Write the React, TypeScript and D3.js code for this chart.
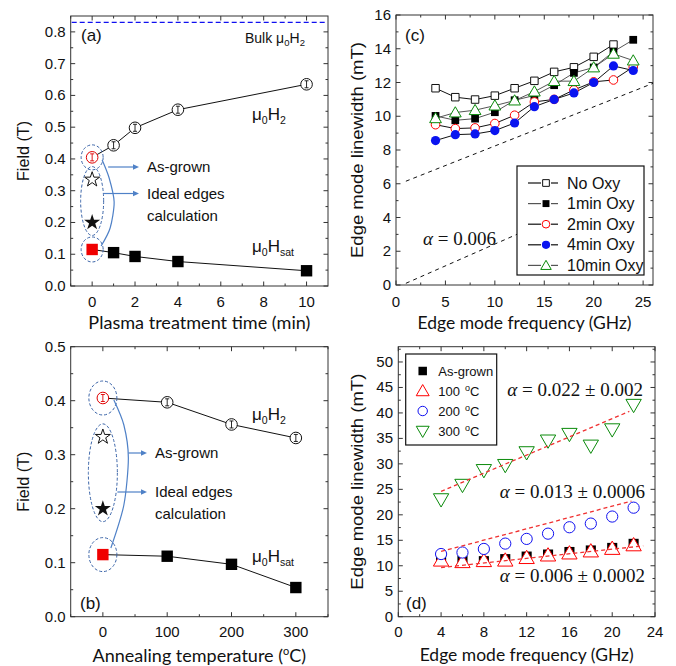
import React from 'react';
import * as d3 from 'd3';

// ---- panel (a): plasma treatment ----
const plasmaTimes = [0, 1, 2, 4, 10];
const h2Plasma = [0.405, 0.443, 0.498, 0.555, 0.635];
const hsatPlasma = [0.115, 0.105, 0.093, 0.077, 0.048];
const idealPlasma = [0.335, 0.2]; // open star, filled star
const bulkH2 = 0.83;

// ---- panel (b): annealing ----
const annealTemps = [0, 100, 200, 300];
const h2Anneal = [0.405, 0.397, 0.356, 0.331];
const hsatAnneal = [0.115, 0.112, 0.097, 0.054];
const idealAnneal = [0.333, 0.2];

// ---- panel (c): oxidation linewidth ----
const oxyFreq = [4, 6, 8, 10, 12, 14, 16, 18, 20, 22, 24];
const oxyNames = ['No Oxy', '1min Oxy', '2min Oxy', '4min Oxy', '10min Oxy'];
const noOxy = [11.66, 11.13, 10.99, 11.22, 11.66, 12.1, 12.63, 12.9, 13.52, 14.25];
const oxy1 = [10.02, 9.76, 9.86, 10.24, 10.95, 11.23, 11.84, 12.57, 12.89, 13.83, 14.53];
const oxy2 = [9.5, 9.27, 9.31, 9.57, 10.06, 10.85, 11.0, 11.56, 12.04, 12.15, 12.92];
const oxy4 = [8.56, 8.91, 8.95, 9.15, 9.6, 10.57, 11.0, 11.38, 12.0, 12.98, 12.71];
const oxy10 = [9.88, 10.22, 10.36, 10.63, 10.93, 11.46, 12.08, 12.08, 12.89, 13.7, 13.3];
const alphaRefUpper = [[1, 6.15], [26, 11.95]];
const alphaRefLower = [[1, 0.1], [13, 3.2]];

// ---- panel (d): annealing linewidth ----
const annFreq = [4, 6, 8, 10, 12, 14, 16, 18, 20, 22];
const annNames = ['As-grown', '100 °C', '200 °C', '300 °C'];
const asGrown = [11.2, 11.0, 10.9, 11.3, 11.8, 12.2, 12.7, 13.0, 13.5, 14.3];
const t100 = [11.0, 10.7, 10.9, 11.0, 11.5, 12.0, 12.4, 12.8, 13.3, 14.0];
const t200 = [12.3, 12.6, 13.3, 14.35, 15.27, 16.3, 17.56, 18.28, 19.66, 21.4];
const t300 = [23.07, 25.9, 28.8, 29.8, 32.3, 34.6, 35.9, 33.6, 36.8, 41.6];
const fitAsGrown = [[4, 9.65], [22.9, 13.9]];
const fit200 = [[4, 12.8], [21.8, 22.7]];
const fit300 = [[4, 24.6], [21.6, 40.3]];

const SANS = '"Liberation Sans", Arial, sans-serif';
const HUM = 'Lato, "Open Sans", sans-serif';
const SERIF = '"Liberation Serif", "Times New Roman", serif';
const AXIS = '#333';
const ANNO = '#4f81c7';

type Sc = d3.ScaleLinear<number, number>;

function Frame(props: {
  x: Sc; y: Sc; xTicks: number[]; xMinor: number[]; yTicks: number[]; yMinor: number[];
  yFmt: (v: number) => string; xTitle: React.ReactNode; yTitle: string;
  xLabelY: number; xTitleY: number; yLabelX: number; yTitleX: number;
  xTitleLen?: number; yTitleLen: number;
}) {
  const { x, y } = props;
  const [x0, x1] = x.range();
  const [y0, y1] = y.range();
  const M = 4.5, m = 2.5;
  return (
    <g>
      <rect x={x0} y={y1} width={x1 - x0} height={y0 - y1} fill="none" stroke={AXIS} strokeWidth={1} />
      {props.xTicks.map(t => (
        <g key={'xt' + t}>
          <line x1={x(t)} x2={x(t)} y1={y0} y2={y0 - M} stroke={AXIS} />
          <line x1={x(t)} x2={x(t)} y1={y1} y2={y1 + M} stroke={AXIS} />
          <text x={x(t)} y={props.xLabelY} textAnchor="middle" fontSize={15} fontFamily={SANS} fill="#111">{t}</text>
        </g>
      ))}
      {props.xMinor.map(t => (
        <g key={'xm' + t}>
          <line x1={x(t)} x2={x(t)} y1={y0} y2={y0 - m} stroke={AXIS} />
          <line x1={x(t)} x2={x(t)} y1={y1} y2={y1 + m} stroke={AXIS} />
        </g>
      ))}
      {props.yTicks.map(t => (
        <g key={'yt' + t}>
          <line x1={x0} x2={x0 + M} y1={y(t)} y2={y(t)} stroke={AXIS} />
          <line x1={x1} x2={x1 - M} y1={y(t)} y2={y(t)} stroke={AXIS} />
          <text x={props.yLabelX} y={y(t) + 5} textAnchor="end" fontSize={15} fontFamily={SANS} fill="#111">{props.yFmt(t)}</text>
        </g>
      ))}
      {props.yMinor.map(t => (
        <g key={'ym' + t}>
          <line x1={x0} x2={x0 + m} y1={y(t)} y2={y(t)} stroke={AXIS} />
          <line x1={x1} x2={x1 - m} y1={y(t)} y2={y(t)} stroke={AXIS} />
        </g>
      ))}
      {props.xTitleLen ? (
        <text x={(x0 + x1) / 2 - props.xTitleLen / 2} y={props.xTitleY} fontSize={18} fontFamily={HUM} fill="#111"
          textLength={props.xTitleLen} lengthAdjust="spacingAndGlyphs">{props.xTitle}</text>
      ) : (
        <text x={(x0 + x1) / 2} y={props.xTitleY} textAnchor="middle" fontSize={18} fontFamily={HUM} fill="#111">{props.xTitle}</text>
      )}
      <text transform={`translate(${props.yTitleX},${(y0 + y1) / 2 + props.yTitleLen / 2}) rotate(-90)`} fontSize={17} fontFamily={SANS} fill="#111"
        textLength={props.yTitleLen} lengthAdjust="spacingAndGlyphs">{props.yTitle}</text>
    </g>
  );
}

const sym = (type: d3.SymbolType, size: number) => d3.symbol().type(type).size(size)() || '';

function Mu0H({ x, y, sub, size = 17 }: { x: number; y: number; sub: string; size?: number }) {
  const s = size * 0.62;
  return (
    <text x={x} y={y} fontSize={size} fontFamily={SANS} fill="#111">
      μ<tspan fontSize={s} dy={size * 0.22}>0</tspan>
      <tspan dy={-size * 0.22}>H</tspan>
      <tspan fontSize={s} dy={size * 0.22}>{sub}</tspan>
    </text>
  );
}

function Arrow({ x1, x2, y }: { x1: number; x2: number; y: number }) {
  return (
    <g>
      <line x1={x1} x2={x2 - 5} y1={y} y2={y} stroke={ANNO} strokeWidth={1.2} />
      <path d={`M${x2},${y} L${x2 - 6},${y - 2.8} L${x2 - 6},${y + 2.8} Z`} fill={ANNO} />
    </g>
  );
}

function FieldPanel(props: {
  x: Sc; y: Sc; xs: number[]; h2: number[]; hsat: number[]; ideal: number[];
  xTicks: number[]; xMinor: number[]; yTicks: number[]; yMinor: number[];
  xTitle: React.ReactNode; xTitleLen?: number; label: string; labelPos: [number, number];
  xLabelY: number; xTitleY: number; h2Text: [number, number]; hsatText: [number, number];
  ellR: number; ellRy: number; curve: [number, number][]; textX: number;
  arrowAs: [number, number]; arrowId: [number, number]; bulk?: number;
}) {
  const { x, y, xs, h2, hsat, ideal } = props;
  const line = d3.line<number>().x((_, i) => x(xs[i])).y(d => y(d));
  const cx = x(0);
  const yTop = y(h2[0]), yBot = y(hsat[0]);
  const yS1 = y(ideal[0]), yS2 = y(ideal[1]);
  const er = props.ellR, ery = props.ellRy;
  const bracket = d3.line<[number, number]>().x(d => cx + d[0]).y(d => d[1]).curve(d3.curveCardinal.tension(0.2));
  const [xr0, xr1] = x.range();
  return (
    <g>
      <Frame x={x} y={y} xTicks={props.xTicks} xMinor={props.xMinor} yTicks={props.yTicks} yMinor={props.yMinor}
        yFmt={d3.format('.1f')} xTitle={props.xTitle} yTitle="Field (T)"
        xLabelY={props.xLabelY} xTitleY={props.xTitleY} yLabelX={x.range()[0] - 5} yTitleX={29}
        xTitleLen={props.xTitleLen} yTitleLen={60} />
      {props.bulk !== undefined && (
        <g>
          <line x1={xr0 + 1} x2={xr1 - 1} y1={y(props.bulk)} y2={y(props.bulk)} stroke="#1010f0" strokeWidth={1.3} strokeDasharray="5,3" />
          <text x={245} y={43} fontSize={14} fontFamily={SANS} fill="#111">Bulk μ<tspan fontSize={9.5} dy={3}>0</tspan><tspan dy={-3}>H</tspan><tspan fontSize={9.5} dy={3}>2</tspan></text>
        </g>
      )}
      <text x={props.labelPos[0]} y={props.labelPos[1]} fontSize={17} fontFamily={SANS} fill="#111">{props.label}</text>
      {/* connecting lines */}
      <path d={line(h2) || ''} fill="none" stroke="#111" strokeWidth={1} />
      <path d={line(hsat) || ''} fill="none" stroke="#111" strokeWidth={1} />
      {/* annotations */}
      <ellipse cx={cx} cy={yTop} rx={er} ry={ery} fill="none" stroke="#3a64a8" strokeWidth={1} strokeDasharray="3,2" />
      <ellipse cx={cx} cy={yBot} rx={er} ry={ery} fill="none" stroke="#3a64a8" strokeWidth={1} strokeDasharray="3,2" />
      <ellipse cx={cx} cy={(yS1 + yS2) / 2} rx={er + 0.5} ry={(yS2 - yS1) / 2 + 13} fill="none" stroke="#3a64a8" strokeWidth={1} strokeDasharray="3,2" />
      <path d={bracket(props.curve) || ''} fill="none" stroke={ANNO} strokeWidth={1.2} />
      <Arrow x1={cx + props.arrowAs[0]} x2={props.textX - 8} y={props.arrowAs[1]} />
      <Arrow x1={cx + props.arrowId[0]} x2={props.textX - 8} y={props.arrowId[1]} />
      <text x={props.textX} y={props.arrowAs[1] + 5} fontSize={15} fontFamily={SANS} fill="#111">As-grown</text>
      <text x={props.textX} y={props.arrowId[1] + 5} fontSize={15} fontFamily={SANS} fill="#111">Ideal edges</text>
      <text x={props.textX} y={props.arrowId[1] + 27} fontSize={15} fontFamily={SANS} fill="#111">calculation</text>
      {/* stars */}
      <path d={sym(d3.symbolStar, 70)} transform={`translate(${cx},${yS1})`} fill="#fff" stroke="#111" strokeWidth={1} />
      <path d={sym(d3.symbolStar, 80)} transform={`translate(${cx},${yS2})`} fill="#111" />
      {/* Hsat squares */}
      {hsat.map((v, i) => (
        <path key={'s' + i} d={sym(d3.symbolSquare, 130)} transform={`translate(${x(xs[i])},${y(v)})`} fill={i === 0 ? '#f00000' : '#000'} />
      ))}
      {/* H2 circles with error bars */}
      {h2.map((v, i) => {
        const c = i === 0 ? '#e00000' : '#111';
        const px = x(xs[i]), py = y(v);
        return (
          <g key={'c' + i}>
            <circle cx={px} cy={py} r={5.8} fill="#fff" stroke={c} strokeWidth={1} />
            <line x1={px} x2={px} y1={py - 3.5} y2={py + 3.5} stroke={c} strokeWidth={0.9} />
            <line x1={px - 2} x2={px + 2} y1={py - 3.5} y2={py - 3.5} stroke={c} strokeWidth={0.9} />
            <line x1={px - 2} x2={px + 2} y1={py + 3.5} y2={py + 3.5} stroke={c} strokeWidth={0.9} />
          </g>
        );
      })}
      <Mu0H x={props.h2Text[0]} y={props.h2Text[1]} sub="2" />
      <Mu0H x={props.hsatText[0]} y={props.hsatText[1]} sub="sat" />
    </g>
  );
}

function Marker({ kind, cx, cy, color, s = 1 }: { kind: string; cx: number; cy: number; color: string; s?: number }) {
  const t = `translate(${cx},${cy})`;
  if (kind === 'sqOpen') return <path d={sym(d3.symbolSquare, 56 * s)} transform={t} fill="#fff" stroke={color} strokeWidth={1} />;
  if (kind === 'sqFill') return <path d={sym(d3.symbolSquare, 60 * s)} transform={t} fill={color} />;
  if (kind === 'ciOpen') return <circle cx={cx} cy={cy} r={4.3 * Math.sqrt(s)} fill="#fff" stroke={color} strokeWidth={1} />;
  if (kind === 'ciFill') return <circle cx={cx} cy={cy} r={4.6 * Math.sqrt(s)} fill={color} />;
  if (kind === 'triUp') return <path d={sym(d3.symbolTriangle, 60 * s)} transform={t + ' translate(0,1)'} fill="#fff" stroke={color} strokeWidth={1} />;
  if (kind === 'triDown') return <path d={sym(d3.symbolTriangle, 60 * s)} transform={t + ' rotate(180) translate(0,1)'} fill="#fff" stroke={color} strokeWidth={1} />;
  return null;
}

function PanelC() {
  const x = d3.scaleLinear().domain([0, 26]).range([396, 653]);
  const y = d3.scaleLinear().domain([0, 16]).range([285, 15]);
  const series = [
    { name: oxyNames[0], v: noOxy, kind: 'sqOpen', color: '#111', line: '#111' },
    { name: oxyNames[1], v: oxy1, kind: 'sqFill', color: '#000', line: '#555' },
    { name: oxyNames[2], v: oxy2, kind: 'ciOpen', color: '#f00', line: '#111' },
    { name: oxyNames[3], v: oxy4, kind: 'ciFill', color: '#0a14f0', line: '#111' },
    { name: oxyNames[4], v: oxy10, kind: 'triUp', color: '#0a8a0a', line: '#555' },
  ];
  const ref = d3.line<number[]>().x(d => x(d[0])).y(d => y(d[1]));
  return (
    <g>
      <Frame x={x} y={y} xTicks={d3.range(0, 26, 5)} xMinor={d3.range(2.5, 26, 5)}
        yTicks={d3.range(0, 17, 2)} yMinor={d3.range(1, 16, 2)} yFmt={d3.format('d')}
        xTitle="Edge mode frequency (GHz)" yTitle="Edge mode linewidth (mT)"
        xLabelY={307} xTitleY={329} yLabelX={391} yTitleX={363} xTitleLen={214} yTitleLen={216} />
      <path d={ref(alphaRefUpper) || ''} stroke="#111" strokeDasharray="4,4" fill="none" />
      <path d={ref(alphaRefLower) || ''} stroke="#111" strokeDasharray="4,4" fill="none" />
      <text x={423} y={245} fontSize={19} fontFamily={SERIF} fill="#111"><tspan fontStyle="italic">α</tspan> = 0.006</text>
      {series.map(s => {
        const ln = d3.line<number>().x((_, i) => x(oxyFreq[i])).y(d => y(d));
        return <path key={s.name + 'l'} d={ln(s.v) || ''} fill="none" stroke={s.line} strokeWidth={1} />;
      })}
      {series.map(s => s.v.map((v, i) => (
        <Marker key={s.name + i} kind={s.kind} cx={x(oxyFreq[i])} cy={y(v)} color={s.color} />
      )))}
      <rect x={517} y={166} width={127} height={109} fill="#fff" stroke="#111" strokeWidth={1.2} />
      {series.map((s, i) => {
        const ry = 183 + i * 20.6;
        return (
          <g key={s.name + 'lg'}>
            <line x1={528} x2={558} y1={ry} y2={ry} stroke={s.line} strokeWidth={1.2} />
            <rect x={541} y={ry - 5} width={10} height={10} fill="#fff" />
            <Marker kind={s.kind} cx={546} cy={ry} color={s.color} s={0.8} />
            <text x={567} y={ry + 5.5} fontSize={16} fontFamily={SANS} fill="#111">{s.name}</text>
          </g>
        );
      })}
      <text x={405} y={41} fontSize={17} fontFamily={SANS} fill="#111">(c)</text>
    </g>
  );
}

function PanelD() {
  const x = d3.scaleLinear().domain([0, 24]).range([398.3, 655]);
  const y = d3.scaleLinear().domain([0, 53]).range([616.7, 346.7]);
  const series = [
    { name: annNames[0], v: asGrown, kind: 'sqFill', color: '#000' },
    { name: annNames[1], v: t100, kind: 'triUp', color: '#f00' },
    { name: annNames[2], v: t200, kind: 'ciOpen', color: '#1010f0' },
    { name: annNames[3], v: t300, kind: 'triDown', color: '#0a8a0a' },
  ];
  const fl = d3.line<number[]>().x(d => x(d[0])).y(d => y(d[1]));
  return (
    <g>
      <Frame x={x} y={y} xTicks={d3.range(0, 25, 4)} xMinor={d3.range(2, 24, 4)}
        yTicks={d3.range(0, 51, 5)} yMinor={d3.range(2.5, 53, 5)} yFmt={d3.format('d')}
        xTitle="Edge mode frequency (GHz)" yTitle="Edge mode linewidth (mT)"
        xLabelY={637} xTitleY={661} yLabelX={393} yTitleX={363} xTitleLen={214} yTitleLen={216} />
      {series.map(s => s.v.map((v, i) => (
        <Marker key={s.name + i} kind={s.kind} cx={x(annFreq[i])} cy={y(v)} color={s.color} s={1.7} />
      )))}
      {[fitAsGrown, fit200, fit300].map((f, i) => (
        <path key={'f' + i} d={fl(f) || ''} fill="none" stroke="#f03030" strokeWidth={1.3} strokeDasharray="4,3" />
      ))}
      <text x={643} y={396} textAnchor="end" fontSize={19} fontFamily={SERIF} fill="#111"><tspan fontStyle="italic">α</tspan> = 0.022 ± 0.002</text>
      <text x={645} y={498} textAnchor="end" fontSize={19} fontFamily={SERIF} fill="#111"><tspan fontStyle="italic">α</tspan> = 0.013 ± 0.0006</text>
      <text x={645} y={582} textAnchor="end" fontSize={19} fontFamily={SERIF} fill="#111"><tspan fontStyle="italic">α</tspan> = 0.006 ± 0.0002</text>
      <rect x={405.7} y={354} width={91} height={91} fill="#fff" stroke="#111" strokeWidth={1.2} />
      {series.map((s, i) => {
        const ry = 371 + i * 20;
        const deg = s.name.indexOf('°') >= 0;
        return (
          <g key={s.name + 'lg'}>
            <Marker kind={s.kind} cx={422.7} cy={ry} color={s.color} s={1.2} />
            {deg ? (
              <g>
                <text x={438.3} y={ry + 5} fontSize={13} fontFamily={SANS} fill="#111">{s.name.split(' ')[0]}</text>
                <text x={465} y={ry} fontSize={9} fontFamily={SANS} fill="#111">o</text>
                <text x={470} y={ry + 5} fontSize={13} fontFamily={SANS} fill="#111">C</text>
              </g>
            ) : (
              <text x={438.3} y={ry + 5} fontSize={13} fontFamily={SANS} fill="#111">{s.name}</text>
            )}
          </g>
        );
      })}
      <text x={406} y={609} fontSize={17} fontFamily={SANS} fill="#111">(d)</text>
    </g>
  );
}

export default function App() {
  const xa = d3.scaleLinear().domain([-1, 11]).range([70.7, 328]);
  const ya = d3.scaleLinear().domain([0, 0.85]).range([286, 16]);
  const xb = d3.scaleLinear().domain([-50, 350]).range([70.7, 328]);
  const yb = d3.scaleLinear().domain([0, 0.5]).range([616.7, 346.7]);
  return (
    <svg width={676} height={666} style={{ position: 'absolute', left: 0, top: 0, background: '#fff' }}>
      <rect width={676} height={666} fill="#fff" />
      <FieldPanel x={xa} y={ya} xs={plasmaTimes} h2={h2Plasma} hsat={hsatPlasma} ideal={idealPlasma}
        xTicks={d3.range(0, 11, 2)} xMinor={d3.range(-1, 11, 2)} yTicks={d3.range(0, 0.81, 0.1)} yMinor={d3.range(0.05, 0.85, 0.1)}
        xTitle="Plasma treatment time (min)" xTitleLen={222} label="(a)" labelPos={[81, 41]}
        xLabelY={307} xTitleY={329} h2Text={[252, 120]} hsatText={[252, 252]}
        ellR={11} ellRy={12.5} curve={[[10, 160], [17, 178], [22, 202], [18, 228], [9, 246]]}
        textX={147} arrowAs={[16, 167]} arrowId={[11.5, 193.5]} bulk={bulkH2} />
      <FieldPanel x={xb} y={yb} xs={annealTemps} h2={h2Anneal} hsat={hsatAnneal} ideal={idealAnneal}
        xTicks={d3.range(0, 301, 100)} xMinor={d3.range(-50, 351, 100)} yTicks={d3.range(0, 0.51, 0.1)} yMinor={d3.range(0.05, 0.5, 0.1)}
        xTitle={<>Annealing temperature (<tspan fontSize={11} dy={-7}>o</tspan><tspan dy={7}>C)</tspan></>}
        label="(b)" labelPos={[80, 609]}
        xLabelY={637} xTitleY={662} h2Text={[252, 420]} hsatText={[252, 562]}
        ellR={14} ellRy={17} curve={[[11, 400], [21, 425], [25.5, 458], [21, 505], [8, 548]]}
        textX={155} arrowAs={[25.5, 453]} arrowId={[14.5, 492]} />
      <PanelC />
      <PanelD />
    </svg>
  );
}
